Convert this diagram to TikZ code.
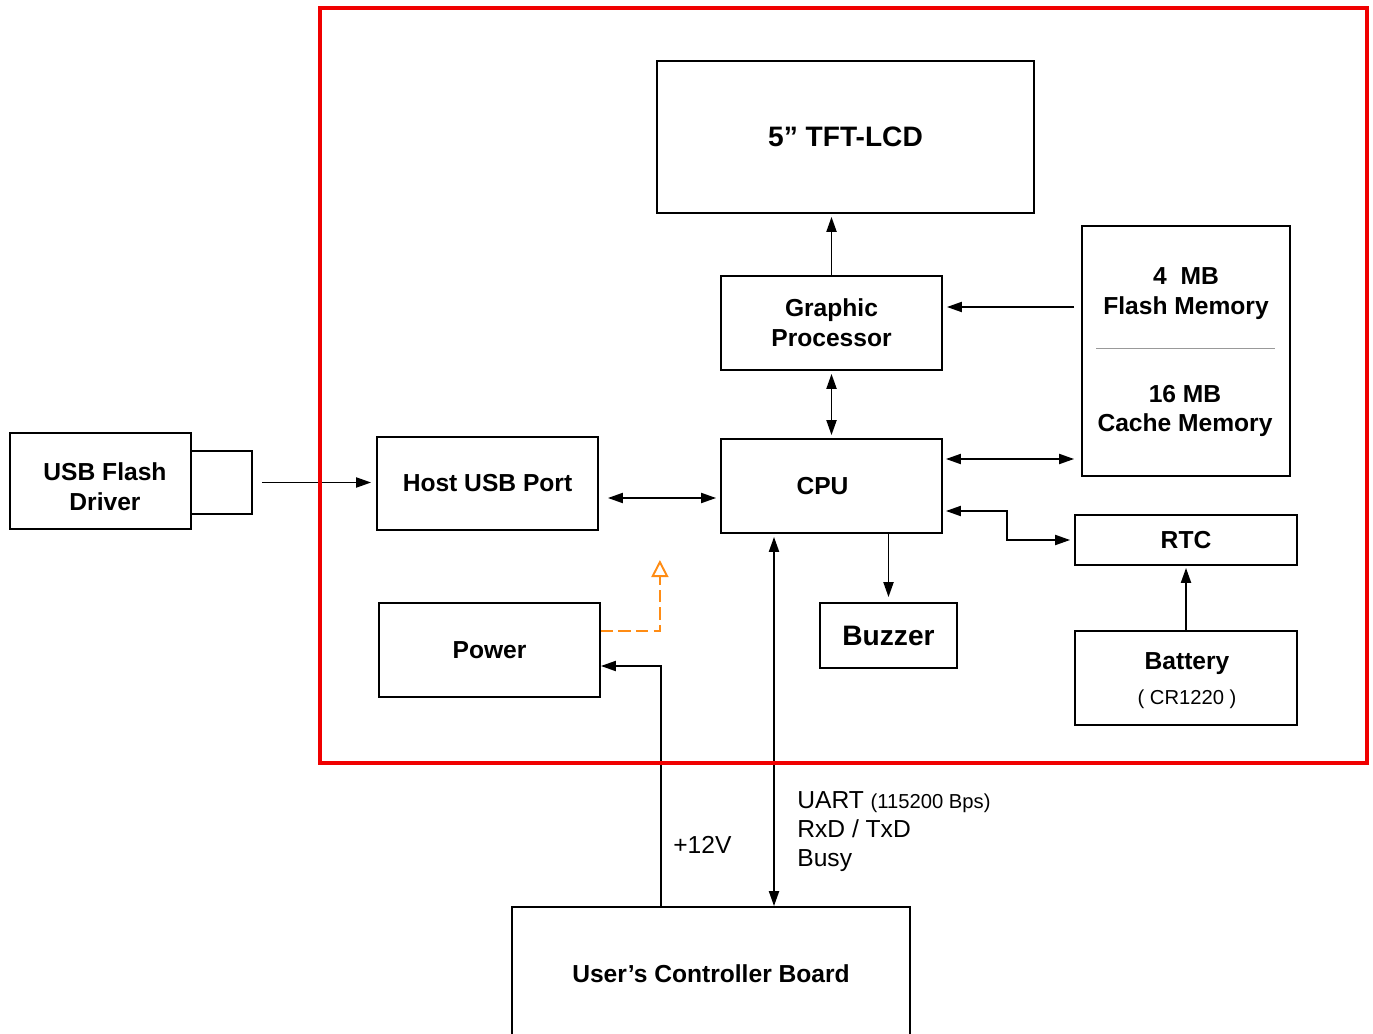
\documentclass[tikz,border=0pt]{standalone}
\usepackage{fontspec}
\setmainfont{Liberation Sans}
\usetikzlibrary{arrows.meta, positioning, calc}
\definecolor{frmred}{RGB}{240,0,0}
\definecolor{pwrorange}{RGB}{255,140,20}
\tikzset{
    % Blocks
    blk/.style={rectangle, draw=black, line width=1pt, fill=white, align=center,
                inner sep=1pt, font=\fontsize{14}{17}\selectfont\bfseries},
    bigblk/.style={blk, font=\fontsize{16}{19}\selectfont\bfseries},
    blktxt/.style={align=center, inner sep=0pt, font=\fontsize{14}{17}\selectfont\bfseries},
    memsep/.style={line width=0.4pt, gray!80},
    % Connectors
    sarrow/.style={-{Triangle[length=0.3cm, width=0.2cm]}, line width=1.1pt},
    darrow/.style={{Triangle[length=0.3cm, width=0.2cm]}-{Triangle[length=0.3cm, width=0.2cm]}, line width=1.1pt},
    pwrdash/.style={-{Triangle[open, length=0.34cm, width=0.34cm]}, line width=1.1pt,
                 pwrorange, dash pattern=on 7pt off 3pt},
    % Frame and notes
    frm/.style={frmred, line width=2.4pt},
    siglbl/.style={anchor=west, align=left, inner sep=0pt, font=\fontsize{14}{16.5}\selectfont},
}
\begin{document}
\begin{tikzpicture}
\useasboundingbox (0,0) rectangle (27.46,-20.68);

% Blocks
\node[bigblk, minimum width=7.54cm, minimum height=3.04cm] (lcd) at (16.91,-2.74) {5” TFT-LCD};
\node[blk, minimum width=4.42cm, minimum height=1.88cm] (gp) at (16.63,-6.46) {Graphic\\Processor};
\node[blk, minimum width=4.42cm, minimum height=1.88cm] (cpu) at (16.63,-9.72) {\hspace*{-0.36cm}CPU};
\node[blk, minimum width=4.16cm, minimum height=5.00cm] (mem) at (23.72,-7.02) {};
\node[blktxt] (flash) at (23.72,-5.88) {4~ MB\\Flash Memory};
\node[blktxt] (cache) at (23.70,-8.22) {16 MB\\Cache Memory};
\node[blk, minimum width=4.42cm, minimum height=1.86cm] (host) at (9.75,-9.67) {Host USB Port};
\node[blk, minimum width=3.62cm, minimum height=1.92cm] (usb) at (2.01,-9.62) {};
\node[blktxt] (usbtxt) at (2.10,-9.74) {USB Flash\\Driver};
\node[blk, minimum width=1.22cm, minimum height=1.26cm] (plug) at (4.43,-9.65) {};
\node[blk, minimum width=4.44cm, minimum height=1.00cm] (rtc) at (23.72,-10.80) {RTC};
\node[blk, minimum width=4.44cm, minimum height=1.88cm] (batt) at (23.72,-13.56) {};
\node[blktxt] (batttxt) at (23.74,-13.62)
    {Battery\\[3pt]{\fontsize{11.5}{14}\selectfont\mdseries ( CR1220 )}};
\node[bigblk, minimum width=2.74cm, minimum height=1.30cm] (buzz) at (17.77,-12.71) {Buzzer};
\node[blk, minimum width=4.42cm, minimum height=1.88cm] (power) at (9.79,-13.00) {Power};
\node[blk, minimum width=7.96cm, minimum height=2.76cm] (user) at (14.22,-19.52) {\raisebox{0.08cm}{User’s Controller Board}};

\draw[memsep] ([xshift=0.30cm,yshift=0.06cm]mem.west) -- ([xshift=-0.32cm,yshift=0.06cm]mem.east);

% Connectors
\draw[sarrow, shorten <=0.18cm, shorten >=0.10cm] (plug.east) -- (plug.east -| host.west);
\draw[darrow, shorten <=0.18cm, shorten >=0.08cm] ([yshift=-0.29cm]host.east) -- ([yshift=-0.29cm]host.east -| cpu.west);
\draw[sarrow, shorten >=0.06cm] (gp.north) -- (gp.north |- lcd.south);
\draw[sarrow, shorten <=0.14cm, shorten >=0.08cm] ([yshift=0.32cm]gp.east -| mem.west) -- ([yshift=0.32cm]gp.east);
\draw[darrow, shorten <=0.06cm, shorten >=0.06cm] (gp.south) -- (cpu.north);
\draw[darrow, shorten <=0.06cm, shorten >=0.14cm] ([yshift=0.54cm]cpu.east) -- ([yshift=0.54cm]cpu.east -| mem.west);
\draw[darrow, shorten <=0.06cm, shorten >=0.08cm] ([yshift=-0.50cm]cpu.east) -- ++(1.28,0) |- (rtc.west);
\draw[sarrow, shorten >=0.10cm] (buzz.north |- cpu.south) -- (buzz.north);
\draw[sarrow, shorten >=0.04cm] (batt.north) -- (rtc.south);
\draw[darrow, shorten <=0.06cm] ([xshift=-1.15cm]cpu.south) -- ([xshift=-1.15cm]cpu.south |- user.north);
\draw[sarrow] ([xshift=-1.00cm]user.north) |- ([yshift=-0.32cm]power.east);
\coordinate (pwrtip) at ($(power.east)+(1.18,1.80)$);
\draw[pwrdash] ([yshift=0.38cm]power.east) -| (pwrtip);

% Signal notes
\node[siglbl] (v12) at (13.46,-16.90) {+12V};
\node[siglbl] (uart) at (15.94,-16.64)
    {UART {\fontsize{11.5}{14}\selectfont(115200 Bps)}\\RxD / TxD\\Busy};

% Frame
\draw[frm] (6.40,-0.16) rectangle (27.34,-15.26);
\end{tikzpicture}
\end{document}
